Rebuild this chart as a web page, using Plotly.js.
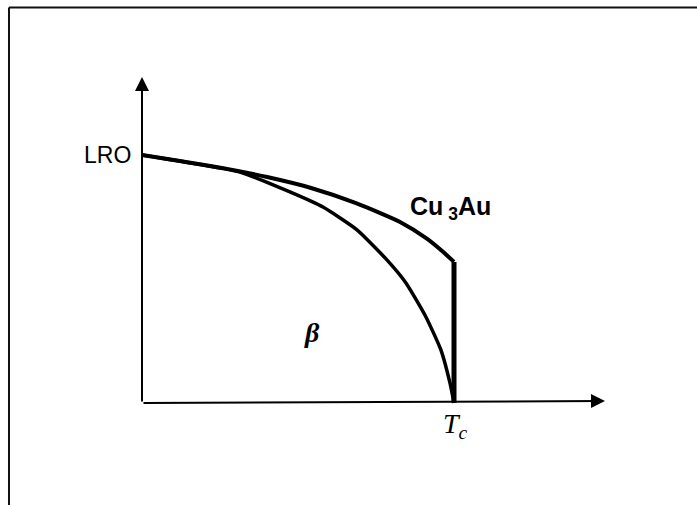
<!DOCTYPE html>
<html>
<head>
<meta charset="utf-8">
<script src="https://cdn.plot.ly/plotly-3.0.1.min.js"></script>
<style>html,body{margin:0;padding:0;background:#fff;}#chart{width:697px;height:505px;}</style>
</head>
<body>
<div id="chart"></div>
<script>
// Reduced temperature T/Tc and long-range order (LRO, normalised)
const tempCu3Au = [0, 0.256, 0.401, 0.542, 0.686, 0.827, 0.913, 0.960, 1.0];
const lroCu3Au  = [1, 0.948, 0.911, 0.867, 0.806, 0.730, 0.663, 0.615, 0.569];
const tempDrop  = [1.0, 1.0];
const lroDrop   = [0.569, 0];
const tempBeta  = [0, 0.314, 0.474, 0.580, 0.689, 0.785, 0.846, 0.910, 0.958, 0.987, 1.0];
const lroBeta   = [1, 0.931, 0.851, 0.790, 0.698, 0.577, 0.484, 0.347, 0.214, 0.081, 0];
const labelY = "LRO";
const labelX = "<i>T<sub>c</sub></i>";
const labelCu3Au = "Cu<sub> 3</sub>Au";
const labelBeta = "<i>β</i>";

const traces = [
  {x: tempCu3Au, y: lroCu3Au, mode: "lines", line: {color: "#000", width: 4, shape: "spline", smoothing: 0.6}, hoverinfo: "skip"},
  {x: tempDrop, y: lroDrop, mode: "lines", line: {color: "#000", width: 5}, hoverinfo: "skip"},
  {x: tempBeta, y: lroBeta, mode: "lines", line: {color: "#000", width: 3.5, shape: "spline", smoothing: 0.5}, hoverinfo: "skip"}
];

const layout = {
  width: 697, height: 505,
  margin: {l: 0, r: 0, t: 0, b: 0},
  paper_bgcolor: "#fff", plot_bgcolor: "#fff",
  showlegend: false,
  xaxis: {range: [-0.4551, 1.7788], visible: false, fixedrange: true},
  yaxis: {range: [-0.4113, 1.625], visible: false, fixedrange: true},
  shapes: [
    {type: "line", xref: "paper", yref: "paper", x0: 0.0129, x1: 0.0129, y0: -0.01, y1: 0.985, line: {color: "#111", width: 2}},
    {type: "line", xref: "paper", yref: "paper", x0: 0.0129, x1: 1.01, y0: 0.985, y1: 0.985, line: {color: "#111", width: 2}}
  ],
  annotations: [
    {x: 0, y: 1.315, ax: 0, ay: 0, xref: "x", yref: "y", axref: "x", ayref: "y", showarrow: true, arrowhead: 2, arrowsize: 1.4, arrowwidth: 2, arrowcolor: "#000", text: ""},
    {x: 1.484, y: 0.008, ax: 0, ay: 0, xref: "x", yref: "y", axref: "x", ayref: "y", showarrow: true, arrowhead: 2, arrowsize: 1.4, arrowwidth: 2, arrowcolor: "#000", text: ""},
    {x: -0.03, y: 1.0, xref: "x", yref: "y", text: labelY, showarrow: false, xanchor: "right", yanchor: "middle", font: {family: "Liberation Sans, Arial", size: 23, color: "#000"}},
    {x: 1.005, y: -0.09, xref: "x", yref: "y", text: labelX, showarrow: false, xanchor: "center", yanchor: "middle", font: {family: "Liberation Serif, Times New Roman", size: 28, color: "#000"}},
    {x: 0.99, y: 0.786, xref: "x", yref: "y", text: labelCu3Au, showarrow: false, xanchor: "center", yanchor: "middle", font: {family: "Liberation Sans, Arial", size: 25, color: "#000", weight: "bold"}},
    {x: 0.545, y: 0.285, xref: "x", yref: "y", text: labelBeta, showarrow: false, xanchor: "center", yanchor: "middle", font: {family: "Liberation Serif, Times New Roman", size: 28, color: "#000", weight: "bold"}}
  ]
};

Plotly.newPlot("chart", traces, layout, {staticPlot: true, displayModeBar: false});
</script>
</body>
</html>
